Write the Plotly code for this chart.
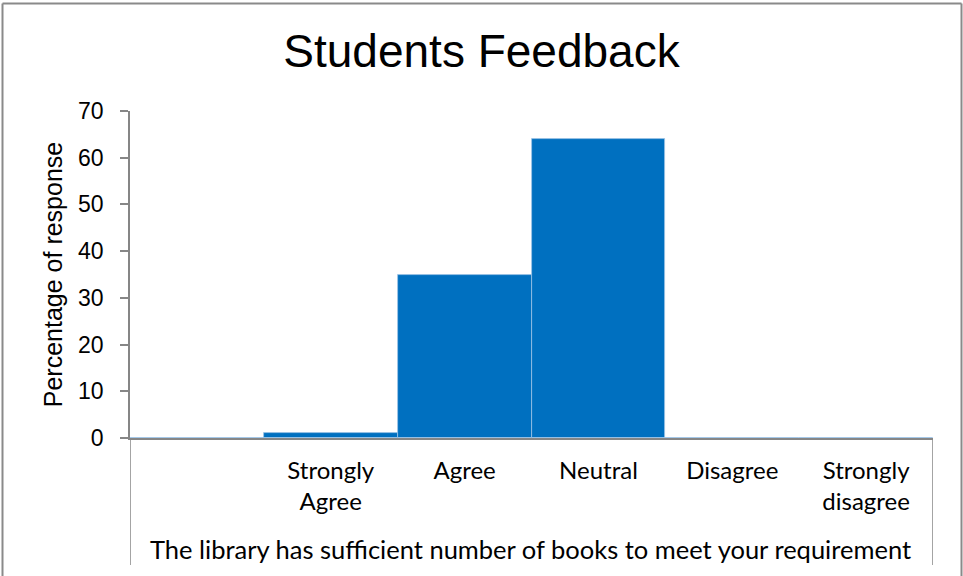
import plotly.graph_objects as go

categories = ["", "Strongly<br>Agree", "Agree", "Neutral", "Disagree", "Strongly<br>disagree"]
values = [0, 1, 35, 64, 0, 0]
y_ticks = [0, 10, 20, 30, 40, 50, 60, 70]
x_group_label = "The library has sufficient number of books to meet your requirement"

positions = list(range(len(categories)))

fig = go.Figure()
fig.add_trace(go.Bar(
    x=positions,
    y=values,
    width=1,
    marker=dict(color="#0070C0", line=dict(color="#9DC3E6", width=0.8)),
    showlegend=False,
))

# plot area in pixels: x 130..933, y 111..438
L, R, T, B = 130, 30, 111, 138
W, H = 963, 576
pw, ph = W - L - R, H - T - B

def px_x(p):
    return (p - L) / pw

def px_y(p):
    return (H - B - p) / ph

gray = "#868686"
shapes = []
# category separators continuing below the axis
for xv in [-0.5, len(categories) - 0.5]:
    shapes.append(dict(type="line", xref="x", yref="paper", x0=xv, x1=xv,
                       y0=0, y1=px_y(565), line=dict(color=gray, width=1.5)))
# chart border (left, top, right)
bx0, bx1, by_top = px_x(2.5), px_x(961.5), px_y(3.5)
shapes.append(dict(type="line", xref="paper", yref="paper", x0=bx0, x1=bx0,
                   y0=by_top, y1=px_y(580), line=dict(color="#8a8a8a", width=2)))
shapes.append(dict(type="line", xref="paper", yref="paper", x0=bx0, x1=bx1,
                   y0=by_top, y1=by_top, line=dict(color="#8a8a8a", width=2)))
shapes.append(dict(type="line", xref="paper", yref="paper", x0=bx1, x1=bx1,
                   y0=by_top, y1=px_y(580), line=dict(color="#8a8a8a", width=2)))

fig.update_layout(
    width=W, height=H,
    margin=dict(l=L, r=R, t=T, b=B),
    paper_bgcolor="white",
    plot_bgcolor="white",
    title=dict(text="Students Feedback", x=0.5, xref="container", y=1 - 51 / H,
               yanchor="middle", xanchor="center",
               font=dict(family="Liberation Sans", size=46, color="black")),
    bargap=0,
    shapes=shapes,
    xaxis=dict(
        range=[-0.5, len(categories) - 0.5],
        tickvals=positions,
        ticktext=categories,
        showgrid=False,
        zeroline=False,
        showline=True,
        linecolor=gray,
        linewidth=1.5,
        ticks="",
        ticklabelstandoff=10,
        tickfont=dict(family="Lato", size=24, color="black"),
    ),
    yaxis=dict(
        range=[0, 70],
        tickvals=y_ticks,
        showgrid=False,
        zeroline=False,
        showline=True,
        linecolor=gray,
        linewidth=1.5,
        ticks="outside",
        ticklen=8,
        tickcolor=gray,
        tickwidth=1.5,
        ticklabelstandoff=12,
        tickfont=dict(family="Liberation Sans", size=23, color="black"),
        title=dict(text="Percentage of response", standoff=8,
                   font=dict(family="Liberation Sans", size=25, color="black")),
    ),
    annotations=[dict(
        text=x_group_label, xref="paper", yref="paper",
        x=px_x(530), y=px_y(549), xanchor="center", yanchor="middle",
        showarrow=False, font=dict(family="Lato", size=25.5, color="black"),
    )],
)

fig.write_html("out.html", config={"displayModeBar": False},
               post_script="document.body.style.margin='0';")
